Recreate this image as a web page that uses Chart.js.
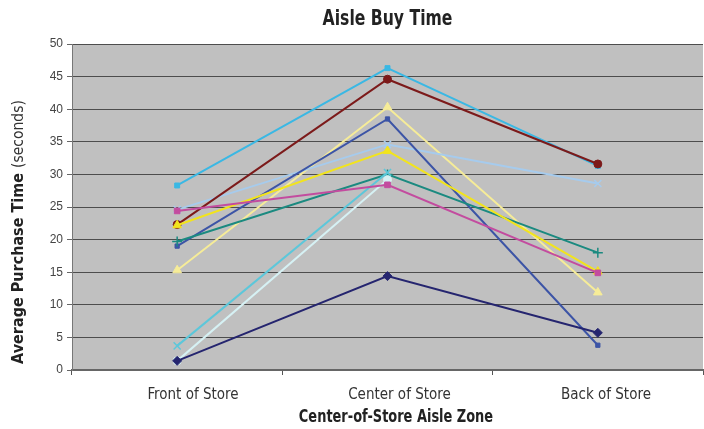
<!DOCTYPE html>
<html>
<head>
<meta charset="utf-8">
<script src="https://cdn.jsdelivr.net/npm/chart.js@4/dist/chart.umd.min.js"></script>
<style>
  html, body { margin: 0; padding: 0; background: #ffffff; }
  #wrap { width: 704px; height: 429px; position: relative; }
</style>
</head>
<body>
<div id="wrap"><canvas id="c" width="704" height="429"></canvas></div>
<script>
// Store zones along the x axis
const categories = ['Front of Store', 'Center of Store', 'Back of Store'];

// Average purchase time (seconds) per aisle, one array per aisle series
const navySeries      = [1.4, 14.4, 5.7];
const magentaSeries   = [24.4, 28.4, 14.9];
const yellowSeries    = [22.2, 33.6, 15.1];
const cyanSeries      = [3.7, 30.3, null];
const turquoiseSeries = [1.4, 29.2, null];
const darkRedSeries   = [22.3, 44.6, 31.6];
const tealSeries      = [19.7, 30.0, 18.0];
const blueSeries      = [19.0, 38.5, 3.8];
const skyBlueSeries   = [28.3, 46.3, 31.3];
const paleBlueSeries  = [24.6, 34.6, 28.6];
const lightYellowSeries = [15.3, 40.3, 11.9];

// Y axis tick values
const yTicks = [0, 5, 10, 15, 20, 25, 30, 35, 40, 45, 50];

// Chart and axis titles
const chartTitle = 'Aisle Buy Time';
const xTitle = 'Center-of-Store Aisle Zone';
const yTitleMain = 'Average Purchase Time ';
const yTitleUnit = '(seconds)';

const NARROW = '"DejaVu Sans Condensed", "Liberation Sans", sans-serif';
const SANS = '"Liberation Sans", Arial, sans-serif';

function series(label, data, color, style, radius) {
  return {
    label, data,
    borderColor: color,
    backgroundColor: color,
    pointBackgroundColor: color,
    pointBorderColor: color,
    pointStyle: style,
    pointRadius: radius,
    pointBorderWidth: (style === 'cross' || style === 'crossRot') ? 1.5 : 1,
    borderWidth: 2,
    tension: 0,
    spanGaps: false,
    xAxisID: 'x',
    yAxisID: 'y'
  };
}

// Grey plot background
const plotBackground = {
  id: 'plotBackground',
  beforeDraw(chart) {
    const a = chart.chartArea, ctx = chart.ctx;
    ctx.save();
    ctx.fillStyle = '#c0c0c0';
    ctx.fillRect(a.left, a.top, a.right - a.left, a.bottom - a.top);
    ctx.restore();
  }
};

// Condensed bold heading text centred at (cx, cy)
function condensedText(ctx, text, cx, cy, size, squeeze, color) {
  ctx.save();
  ctx.font = 'bold ' + size + 'px ' + NARROW;
  ctx.fillStyle = color;
  ctx.textAlign = 'center';
  ctx.textBaseline = 'middle';
  ctx.translate(cx, cy);
  ctx.scale(squeeze, 1);
  ctx.fillText(text, 0, 0);
  ctx.restore();
}

// Chart title, x-axis title and the two-weight y-axis title
const titles = {
  id: 'titles',
  afterDraw(chart) {
    const ctx = chart.ctx;
    const a = chart.chartArea;
    condensedText(ctx, chartTitle, (a.left + a.right) / 2, 19, 22, 0.79, '#222222');
    condensedText(ctx, xTitle, 396, 417, 18, 0.8, '#222222');

    const bold = 'bold 16px ' + NARROW;
    const reg = '15.5px ' + NARROW;
    ctx.save();
    ctx.font = bold; const w1 = ctx.measureText(yTitleMain).width;
    ctx.font = reg; const w2 = ctx.measureText(yTitleUnit).width;
    const total = w1 + w2;
    ctx.translate(19, 232);
    ctx.rotate(-Math.PI / 2);
    ctx.textBaseline = 'middle';
    ctx.textAlign = 'left';
    ctx.fillStyle = '#222222';
    ctx.font = bold; ctx.fillText(yTitleMain, -total / 2, 0);
    ctx.fillStyle = '#333333';
    ctx.font = reg; ctx.fillText(yTitleUnit, -total / 2 + w1, 0);
    ctx.restore();
  }
};

// Horizontal axes take no extra side room for their labels
function noSidePadding(s) {
  s.paddingLeft = 0;
  s.paddingRight = 0;
}

new Chart(document.getElementById('c'), {
  type: 'line',
  data: {
    labels: categories,
    datasets: [
      series('Aisle 1', navySeries, '#25256f', 'rectRot', 4.5),
      series('Aisle 2', magentaSeries, '#c34c9f', 'rect', 4),
      series('Aisle 3', yellowSeries, '#f2e41c', 'triangle', 5),
      series('Aisle 4', cyanSeries, '#5cc7da', 'crossRot', 5),
      series('Aisle 5', turquoiseSeries, '#d6f1f4', 'circle', 4),
      series('Aisle 6', darkRedSeries, '#7c1a1a', 'circle', 4),
      series('Aisle 7', tealSeries, '#1b8a80', 'cross', 5),
      series('Aisle 8', blueSeries, '#3c54a6', 'rect', 3),
      series('Aisle 9', skyBlueSeries, '#3ab8e4', 'rect', 3.5),
      series('Aisle 10', paleBlueSeries, '#a6cbed', 'crossRot', 5),
      series('Aisle 11', lightYellowSeries, '#f6ec98', 'triangle', 5)
    ]
  },
  options: {
    responsive: false,
    animation: false,
    devicePixelRatio: 1,
    layout: { autoPadding: false, padding: { left: 0, right: 1, top: 44, bottom: 0 } },
    plugins: {
      legend: { display: false },
      tooltip: { enabled: false },
      title: { display: false }
    },
    scales: {
      x: {
        type: 'category',
        position: 'bottom',
        offset: true,
        ticks: { display: false },
        grid: { offset: true, drawOnChartArea: false, drawTicks: true, tickLength: 5, color: '#555555' },
        border: { color: '#666666', width: 2 },
        afterFit(s) { s.height = 5; noSidePadding(s); }
      },
      xl: {
        type: 'linear',
        position: 'bottom',
        min: -0.586,
        max: 2.47,
        afterBuildTicks(s) { s.ticks = categories.map((c, i) => ({ value: i })); },
        ticks: {
          autoSkip: false,
          maxRotation: 0,
          padding: 3,
          color: '#333333',
          font: { family: NARROW, size: 15 },
          callback: (v) => categories[v] ?? ''
        },
        grid: { display: false },
        border: { display: false },
        afterFit(s) { s.height = 54; noSidePadding(s); }
      },
      y: {
        min: 0,
        max: 50,
        afterBuildTicks(s) { s.ticks = yTicks.map(v => ({ value: v })); },
        ticks: {
          padding: 4,
          color: '#444444',
          font: { family: SANS, size: 12 }
        },
        grid: { color: '#4d4d4d', lineWidth: 1, tickLength: 5, tickColor: '#666666' },
        border: { color: '#777777', width: 1 },
        afterFit(s) { s.width = 72; }
      }
    }
  },
  plugins: [plotBackground, titles]
});
</script>
</body>
</html>
